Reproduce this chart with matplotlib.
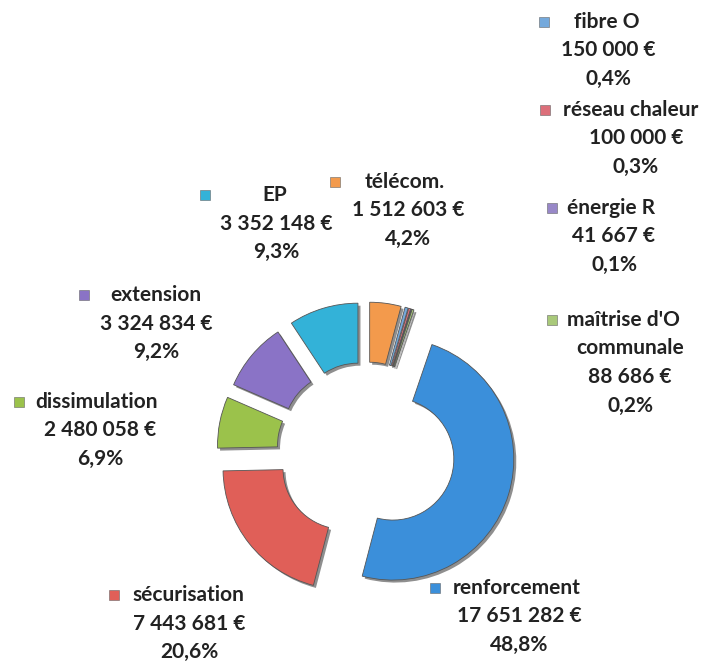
import numpy as np
import matplotlib.pyplot as plt

# data, clockwise from 12 o'clock
categories = ["télécom.", "fibre O", "réseau chaleur", "énergie R", "maîtrise d'O\ncommunale",
              "renforcement", "sécurisation", "dissimulation", "extension", "EP"]
amounts = [1512603, 150000, 100000, 41667, 88686,
           17651282, 7443681, 2480058, 3324834, 3352148]

colors = ["#f39a4c", "#74a9dc", "#dc6f7a", "#9888c8", "#a9c97a",
          "#3b8fda", "#e05f58", "#9bc24b", "#8a73c6", "#33b2d8"]

# label layout in image pixels:
# (x centre of lines 2+, y of first line, x of key square, x where first line starts)
label_pos = [(408, 182, 335, 365), (608, 22, 544, 574), (636, 110, 545, 563),
             (614, 208, 552, 567), (630, 320, 552, 567), (519, 588, 435, 453),
             (189, 595, 114, 132), (100, 402, 19, 35), (156, 295, 84, 110),
             (276, 195, 205, 262)]
line_h = 28.5

W, H = 710, 662
fig = plt.figure(figsize=(W / 100, H / 100), dpi=100)
ax = fig.add_axes([0, 0, 1, 1])

cx, cy, R = 366, H - 451, 121
explode = [28] * len(amounts)   # pie offsets are in data units (pixels here)

# soft drop shadow under the ring
sh, _ = ax.pie(amounts, startangle=90, counterclock=False, explode=explode,
               center=(cx + 2.5, cy - 2.5), radius=R, frame=True,
               colors=['#444444'] * len(amounts),
               wedgeprops=dict(width=60, linewidth=0))
for w in sh:
    w.set_alpha(0.6)

wedges, _ = ax.pie(amounts, startangle=90, counterclock=False, explode=explode,
                   center=(cx, cy), radius=R, frame=True, colors=colors,
                   wedgeprops=dict(width=60, edgecolor='#555555', linewidth=0.6))
ax.set_xlim(0, W)
ax.set_ylim(0, H)
ax.set_aspect('equal')
ax.axis('off')

total = sum(amounts)
font = dict(family=['Lato', 'DejaVu Sans'], fontweight='bold', fontsize=15, color='#222222')
for name, val, col, (tx, ty, kx, fx) in zip(categories, amounts, colors, label_pos):
    pct = f"{100 * val / total:.1f}".replace('.', ',') + "%"
    money = f"{val:,}".replace(',', ' ') + " €"
    lines = name.split('\n')
    rest = lines[1:] + [money, pct]
    # key square + first line
    ax.plot(kx, H - ty, marker='s', ms=7, color=col, mec='#666666', mew=0.4)
    ax.text(fx, H - ty, lines[0], ha='left', va='center', **font)
    for i, s in enumerate(rest):
        ax.text(tx, H - ty - line_h * (i + 1), s, ha='center', va='center', **font)

fig.savefig('out.png', dpi=100, facecolor='white')
